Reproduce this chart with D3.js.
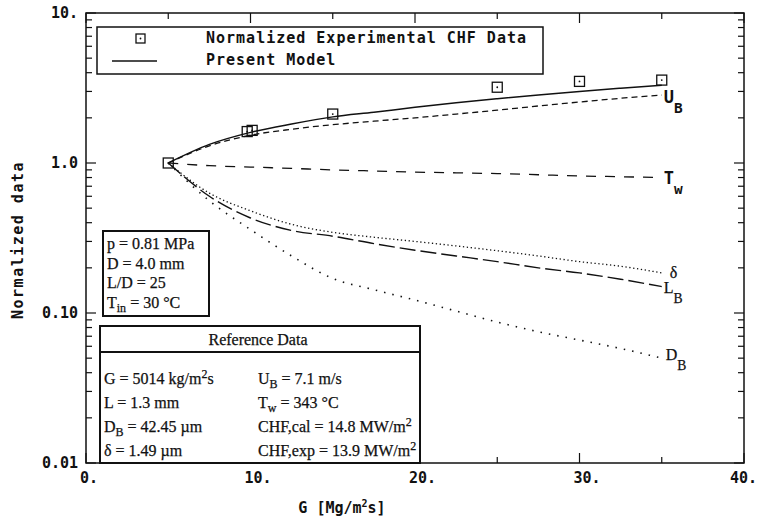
<!DOCTYPE html>
<html>
<head>
<meta charset="utf-8">
<script src="https://cdn.jsdelivr.net/npm/d3@7"></script>
<style>
  html, body { margin: 0; padding: 0; background: #fff; }
  svg { display: block; }
  .mono { font-family: "DejaVu Sans Mono", "Liberation Mono", monospace; font-weight: bold; fill: #111; }
  .serif { font-family: "Liberation Serif", "Times New Roman", serif; fill: #111; stroke: #111; stroke-width: 0.25; }
</style>
</head>
<body>
<div id="chart"></div>
<script>
(() => {
  "use strict";

  // mass flux G [Mg/m2s] where the model was evaluated
  const modelG = [5, 7.5, 10, 12.5, 15, 17.5, 20, 22.5, 25, 27.5, 30, 32.5, 35];
  // normalized model outputs (each divided by its value at G = 5)
  const modelCHF = [1.0, 1.33, 1.6, 1.82, 2.03, 2.18, 2.35, 2.52, 2.68, 2.84, 3.0, 3.15, 3.3];
  const ubRatio  = [1.0, 1.3, 1.53, 1.68, 1.8, 1.9, 2.0, 2.12, 2.25, 2.4, 2.55, 2.7, 2.84];
  const twRatio  = [1.0, 0.96, 0.94, 0.92, 0.9, 0.885, 0.87, 0.86, 0.85, 0.835, 0.82, 0.81, 0.8];
  const deltaRatio = [1.0, 0.63, 0.48, 0.39, 0.345, 0.32, 0.3, 0.28, 0.26, 0.24, 0.22, 0.205, 0.185];
  const lbRatio  = [1.0, 0.6, 0.43, 0.355, 0.325, 0.29, 0.262, 0.24, 0.22, 0.2, 0.185, 0.168, 0.15];
  const dbRatio  = [1.0, 0.56, 0.36, 0.24, 0.17, 0.143, 0.122, 0.103, 0.087, 0.075, 0.066, 0.058, 0.05];

  // experimental CHF, normalized
  const expG   = [5, 9.8, 10.1, 15, 25, 30, 35];
  const expCHF = [1.0, 1.62, 1.65, 2.12, 3.2, 3.5, 3.57];

  const xTicks = [0, 10, 20, 30, 40];
  const xMinor = [5, 15, 25, 35];
  const yTicks = [0.01, 0.1, 1, 10];
  const yTickLabels = ["0.01", "0.10", "1.0", "10."];

  const paramLines = [
    ["p = 0.81 MPa"], ["D = 4.0 mm"], ["L/D = 25"], ["T", "in", " = 30 °C"]
  ];
  const refLeft = [
    ["G = 5014 kg/m", "2", "s"], ["L = 1.3 mm"], ["D", "B", " = 42.45 µm"], ["δ = 1.49 µm"]
  ];
  const refRight = [
    ["U", "B", " = 7.1 m/s"], ["T", "w", " = 343 °C"],
    ["CHF,cal = 14.8 MW/m", "2"], ["CHF,exp = 13.9 MW/m", "2"]
  ];

  const width = 758, height = 521;
  const margin = { top: 13, right: 14, bottom: 58, left: 86 };
  const iw = width - margin.left - margin.right;
  const ih = height - margin.top - margin.bottom;

  const svg = d3.select("#chart").append("svg").attr("width", width).attr("height", height);
  const g = svg.append("g").attr("transform", `translate(${margin.left},${margin.top})`);

  const x = d3.scaleLinear().domain([0, 40]).range([0, iw]);
  const y = d3.scaleLog().domain([0.01, 10]).range([ih, 0]);

  // frame
  g.append("rect").attr("width", iw).attr("height", ih)
    .attr("fill", "none").attr("stroke", "#111").attr("stroke-width", 1.5);

  // ticks (inward, on all four sides)
  const tickG = g.append("g").attr("stroke", "#111").attr("stroke-width", 1.2);
  xTicks.concat(xMinor).forEach(v => {
    const len = xTicks.includes(v) ? 10 : 6;
    tickG.append("line").attr("x1", x(v)).attr("x2", x(v)).attr("y1", ih).attr("y2", ih - len);
    tickG.append("line").attr("x1", x(v)).attr("x2", x(v)).attr("y1", 0).attr("y2", len);
  });
  const yMinor = [];
  [0.01, 0.1, 1].forEach(d => { for (let k = 2; k <= 9; k++) yMinor.push(d * k); });
  yTicks.concat(yMinor).forEach(v => {
    const len = yTicks.includes(v) ? 10 : 6;
    tickG.append("line").attr("x1", 0).attr("x2", len).attr("y1", y(v)).attr("y2", y(v));
    tickG.append("line").attr("x1", iw).attr("x2", iw - len).attr("y1", y(v)).attr("y2", y(v));
  });

  // tick labels
  xTicks.forEach(v => {
    const lx = Math.min(x(v) - 6, width - margin.left - 28);
    g.append("text").attr("class", "mono").attr("font-size", 15)
      .attr("x", lx).attr("y", ih + 20).text(v + ".");
  });
  yTicks.forEach((v, i) => {
    g.append("text").attr("class", "mono").attr("font-size", 15)
      .attr("text-anchor", "end").attr("x", -8).attr("y", y(v) + 5).text(yTickLabels[i]);
  });

  // axis titles
  const xt = svg.append("text").attr("class", "mono").attr("font-size", 15)
    .attr("text-anchor", "middle").attr("x", 342).attr("y", 513);
  xt.append("tspan").text("G [Mg/m");
  xt.append("tspan").attr("font-size", 10).attr("dy", -6).text("2");
  xt.append("tspan").attr("dy", 6).text("s]");
  svg.append("text").attr("class", "mono").attr("font-size", 15)
    .attr("letter-spacing", 1.5)
    .attr("text-anchor", "middle")
    .attr("transform", "translate(23,240) rotate(-90)")
    .text("Normalized data");

  // curves
  const line = d3.line().x(d => x(d[0])).y(d => y(d[1])).curve(d3.curveMonotoneX);
  const series = [
    { key: "model", vals: modelCHF, dash: null, w: 1.5 },
    { key: "UB", vals: ubRatio, dash: "6,4", w: 1.3 },
    { key: "Tw", vals: twRatio, dash: "10,9", w: 1.3 },
    { key: "delta", vals: deltaRatio, dash: "1.3,2.6", w: 1.3 },
    { key: "LB", vals: lbRatio, dash: "16,5", w: 1.4 },
    { key: "DB", vals: dbRatio, dash: "1.5,7", w: 1.6 }
  ];
  g.append("g").selectAll("path").data(series).join("path")
    .attr("fill", "none").attr("stroke", "#111")
    .attr("stroke-width", d => d.w)
    .attr("stroke-dasharray", d => d.dash)
    .attr("d", d => line(modelG.map((gv, i) => [gv, d.vals[i]])));

  // experimental squares
  const sq = g.append("g");
  expG.forEach((gv, i) => {
    sq.append("rect").attr("x", x(gv) - 5).attr("y", y(expCHF[i]) - 5)
      .attr("width", 10).attr("height", 10)
      .attr("fill", "none").attr("stroke", "#111").attr("stroke-width", 1.3);
    sq.append("circle").attr("cx", x(gv)).attr("cy", y(expCHF[i])).attr("r", 0.9).attr("fill", "#111");
  });

  // curve end labels
  const last = modelG.length - 1;
  const xe = x(modelG[last]);
  function endLabel(cls, main, sub, yy, dx, fs) {
    const t = g.append("text").attr("class", cls).attr("font-size", fs)
      .attr("x", xe + dx).attr("y", yy);
    t.append("tspan").text(main);
    if (sub) t.append("tspan").attr("font-size", fs * 0.85).attr("dy", 10).text(sub);
  }
  endLabel("mono", "U", "B", y(ubRatio[last]) + 8, 2, 17);
  endLabel("mono", "T", "w", y(twRatio[last]) + 6, 2, 17);
  endLabel("serif", "δ", null, y(deltaRatio[last]) + 5, 8, 16);
  endLabel("serif", "L", "B", y(lbRatio[last]) + 6, 2, 16);
  endLabel("serif", "D", "B", y(dbRatio[last]) + 2, 4, 16);

  // legend
  const lg = svg.append("g");
  lg.append("rect").attr("x", 97).attr("y", 27).attr("width", 446).attr("height", 47)
    .attr("fill", "#fff").attr("stroke", "#111").attr("stroke-width", 1.5);
  lg.append("rect").attr("x", 136).attr("y", 34).attr("width", 9).attr("height", 9)
    .attr("fill", "none").attr("stroke", "#111").attr("stroke-width", 1.3);
  lg.append("circle").attr("cx", 140.5).attr("cy", 38.5).attr("r", 0.9).attr("fill", "#111");
  lg.append("line").attr("x1", 112).attr("x2", 157).attr("y1", 61).attr("y2", 61)
    .attr("stroke", "#111").attr("stroke-width", 1.3);
  lg.append("text").attr("class", "mono").attr("font-size", 15).attr("letter-spacing", 1)
    .attr("x", 206).attr("y", 43).text("Normalized Experimental CHF Data");
  lg.append("text").attr("class", "mono").attr("font-size", 15).attr("letter-spacing", 1)
    .attr("x", 206).attr("y", 65).text("Present Model");

  // write a line made of [text, sub/sup, text] pieces
  function richLine(sel, parts, isSup) {
    parts.forEach((p, i) => {
      if (i === 1) {
        sel.append("tspan").attr("font-size", 12).attr("dy", isSup ? -6 : 4).text(p);
      } else if (i === 2) {
        sel.append("tspan").attr("dy", isSup ? 6 : -4).text(p);
      } else {
        sel.append("tspan").text(p);
      }
    });
  }

  // parameter box
  const pb = svg.append("g");
  pb.append("rect").attr("x", 103).attr("y", 231).attr("width", 106).attr("height", 85)
    .attr("fill", "#fff").attr("stroke", "#111").attr("stroke-width", 2);
  paramLines.forEach((p, i) => {
    const t = pb.append("text").attr("class", "serif").attr("font-size", 16)
      .attr("x", 107).attr("y", 249 + i * 19.5);
    richLine(t, p, false);
  });

  // reference data box
  const rb = svg.append("g");
  rb.append("rect").attr("x", 100).attr("y", 326).attr("width", 320).attr("height", 137)
    .attr("fill", "#fff").attr("stroke", "#111").attr("stroke-width", 2);
  rb.append("line").attr("x1", 100).attr("x2", 420).attr("y1", 352).attr("y2", 352)
    .attr("stroke", "#111").attr("stroke-width", 2);
  rb.append("text").attr("class", "serif").attr("font-size", 16).attr("text-anchor", "middle")
    .attr("x", 258).attr("y", 345).text("Reference Data");
  refLeft.forEach((p, i) => {
    const t = rb.append("text").attr("class", "serif").attr("font-size", 16)
      .attr("x", 104).attr("y", 384 + i * 24);
    richLine(t, p, i === 0);
  });
  refRight.forEach((p, i) => {
    const t = rb.append("text").attr("class", "serif").attr("font-size", 16)
      .attr("x", 258).attr("y", 384 + i * 24);
    richLine(t, p, i >= 2);
  });
})();
</script>
</body>
</html>
